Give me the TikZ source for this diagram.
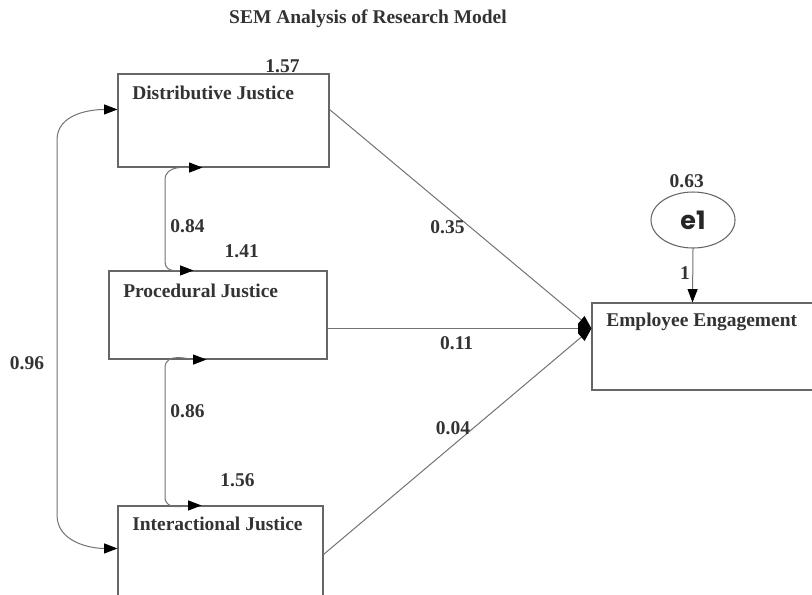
\documentclass[tikz,border=0pt]{standalone}
\usepackage{fontspec}
\setmainfont{Liberation Serif}
\newfontfamily\efont{Poppins}
\usetikzlibrary{arrows.meta,calc,fit,shapes.geometric}
\begin{document}
\begin{tikzpicture}[x=0.75pt,y=-0.75pt,
  box/.style={draw=black!60,line width=0.8pt,inner sep=0pt,fill=none},
  lbl/.style={font=\fontsize{14.6}{16}\selectfont\bfseries,text=black!80,inner sep=0pt},
  num/.style={font=\fontsize{14.6}{16}\selectfont\bfseries,text=black!80,inner sep=0pt},
  link/.style={draw=black!55,line width=0.75pt},
  tip/.style={-{Triangle[length=10pt,width=7.5pt,color=black]}},
  dbl/.style={{Triangle[length=10pt,width=7.5pt,color=black]}-{Triangle[length=10pt,width=7.5pt,color=black]}}
]
\useasboundingbox (0,0) rectangle (812,594);
\clip (0,0) rectangle (812,594);
\fill[white] (0,0) rectangle (812,594);

% title
\node[lbl] (title) at (368,19) {SEM Analysis of Research Model};

% boxes
\node[box,fit={(118,74) (329,167)}] (dj) {};
\node[box,fit={(109,271) (327,359)}] (pj) {};
\node[box,fit={(118,506) (323,640)}] (ij) {};
\node[box,fit={(592,303) (850,390)}] (ee) {};
\node[draw=black!60,line width=0.8pt,ellipse,minimum width=63pt,minimum height=42pt,inner sep=0pt,
      font=\efont\bfseries\fontsize{19}{20}\selectfont,text=black!85] (e1) at (693,220) {e1};

% box labels
\node[lbl,anchor=west] (djl) at (132,93) {Distributive Justice};
\node[lbl,anchor=west] (pjl) at (123,291) {Procedural Justice};
\node[lbl,anchor=west] (ijl) at (132,524) {Interactional Justice};
\node[lbl,anchor=west] (eel) at (606,322) {Employee Engagement};

% coordinates on boxes
\coordinate (djL) at ($(dj.north west)+(0,36)$);
\coordinate (djB) at ($(dj.south west)+(85,0)$);
\coordinate (djR) at ($(dj.north east)+(0,36)$);
\coordinate (pjT) at ($(pj.north west)+(85,0)$);
\coordinate (pjB) at ($(pj.south west)+(98,0)$);
\coordinate (pjR) at ($(pj.north east)+(0,58)$);
\coordinate (ijT) at ($(ij.north west)+(84,0)$);
\coordinate (ijL) at ($(ij.north west)+(0,43)$);
\coordinate (ijR) at ($(ij.north east)+(0,49)$);
\coordinate (eeL) at ($(ee.north west)+(0,26)$);
\coordinate (eeT) at ($(ee.north west)+(101,0)$);
\coordinate (c1a) at (57,140);
\coordinate (c1b) at (57,515);
\coordinate (c2a) at (165,180);
\coordinate (c2b) at (165,262);
\coordinate (c3a) at (165,368);
\coordinate (c3b) at (165,497);

% covariances
\draw[link,dbl] (djL) to[out=180,in=90] (c1a) -- (c1b) to[out=-90,in=180] (ijL);
\draw[link,dbl] (djB) to[out=180,in=90] (c2a) -- (c2b) to[out=-90,in=180] (pjT);
\draw[link,dbl] (pjB) to[out=180,in=90] (c3a) -- (c3b) to[out=-90,in=180] (ijT);

% regressions
\draw[link,tip] (djR) -- (eeL);
\draw[link,tip] (pjR) -- (eeL);
\draw[link,tip] (ijR) -- (eeL);
\draw[link,tip] (e1.south) -- (eeT);

% numbers
\node[num] (n157) at (282.5,66) {1.57};
\node[num] (n141) at (241.7,251) {1.41};
\node[num] (n156) at (237.5,480) {1.56};
\node[num] (n084) at (187.5,226) {0.84};
\node[num] (n086) at (187.5,411) {0.86};
\node[num] (n096) at (27,363) {0.96};
\node[num] (n035) at (447.5,227) {0.35};
\node[num] (n011) at (456.7,343) {0.11};
\node[num] (n004) at (453,428) {0.04};
\node[num] (n063) at (686.7,181) {0.63};
\node[num] (n1) at (685,273) {1};
\end{tikzpicture}
\end{document}
